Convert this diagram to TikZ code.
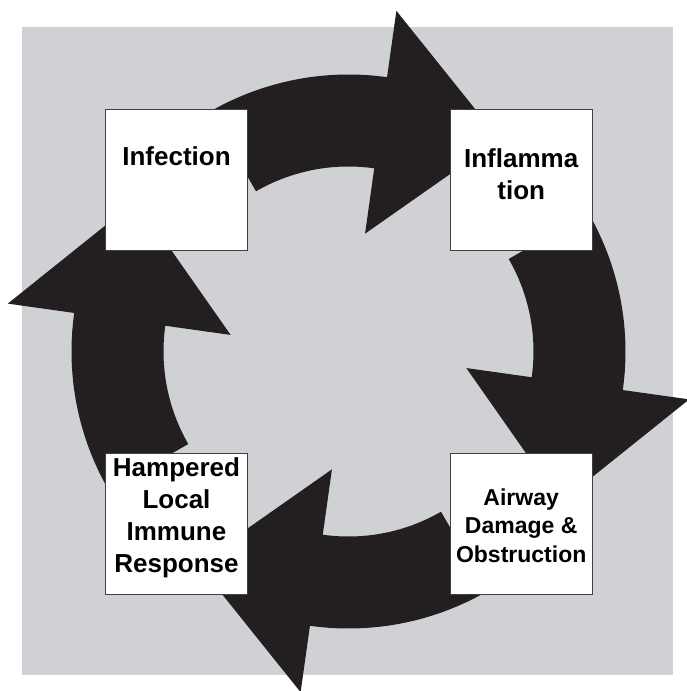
\documentclass[tikz,border=0pt]{standalone}
\usepackage{fontspec}
\setmainfont{Liberation Sans}
\usetikzlibrary{positioning,calc}
\definecolor{bggray}{RGB}{208,209,212}
\definecolor{inkblack}{RGB}{35,31,32}
\tikzset{
  box/.style={rectangle, draw=black!75, line width=0.7pt, fill=white, minimum width=142pt, minimum height=141pt, inner sep=0pt},
  lbl/.style={align=center, font=\bfseries\fontsize{26}{32}\selectfont, inner sep=0pt},
  cyc/.style={fill=inkblack}
}

\begin{document}
\begin{tikzpicture}[x=1pt, y=1pt, node distance=202pt]
\useasboundingbox (-348.5,-339.5) rectangle (337.5,351.5);
\fill[bggray] (-326.5,-323.5) rectangle (324.5,324.5);

% cycle arrows, clockwise
\foreach \t in {120,30,-60,-150}{
  \pgfmathsetmacro{\b}{\t-38}
  \fill[cyc] (\t:277) arc[start angle=\t, end angle=\b, radius=277] -- (\b:344)
    -- ($(\b:231)+(\b-90:120)$) -- (\b:119) -- (\b:185)
    arc[start angle=\b, end angle=\t, radius=185] -- cycle;
}

\node[box] (infect) at (-172,171.5) {};
\node[box, right=of infect] (inflam) {};
\node[box, below=of inflam] (airway) {};
\node[box, below=of infect] (hamper) {};

\node[lbl, yshift=24pt] (infecttxt) at (infect) {Infection};
\node[lbl, yshift=6pt] (inflamtxt) at (inflam) {Inflamma\\tion};
\node[lbl, font=\bfseries\fontsize{23}{28.3}\selectfont, yshift=-2pt] (airwaytxt) at (airway) {Airway\\Damage \&\\Obstruction};
\node[lbl, yshift=6pt] (hampertxt) at (hamper) {Hampered\\Local\\Immune\\Response};
\end{tikzpicture}
\end{document}
